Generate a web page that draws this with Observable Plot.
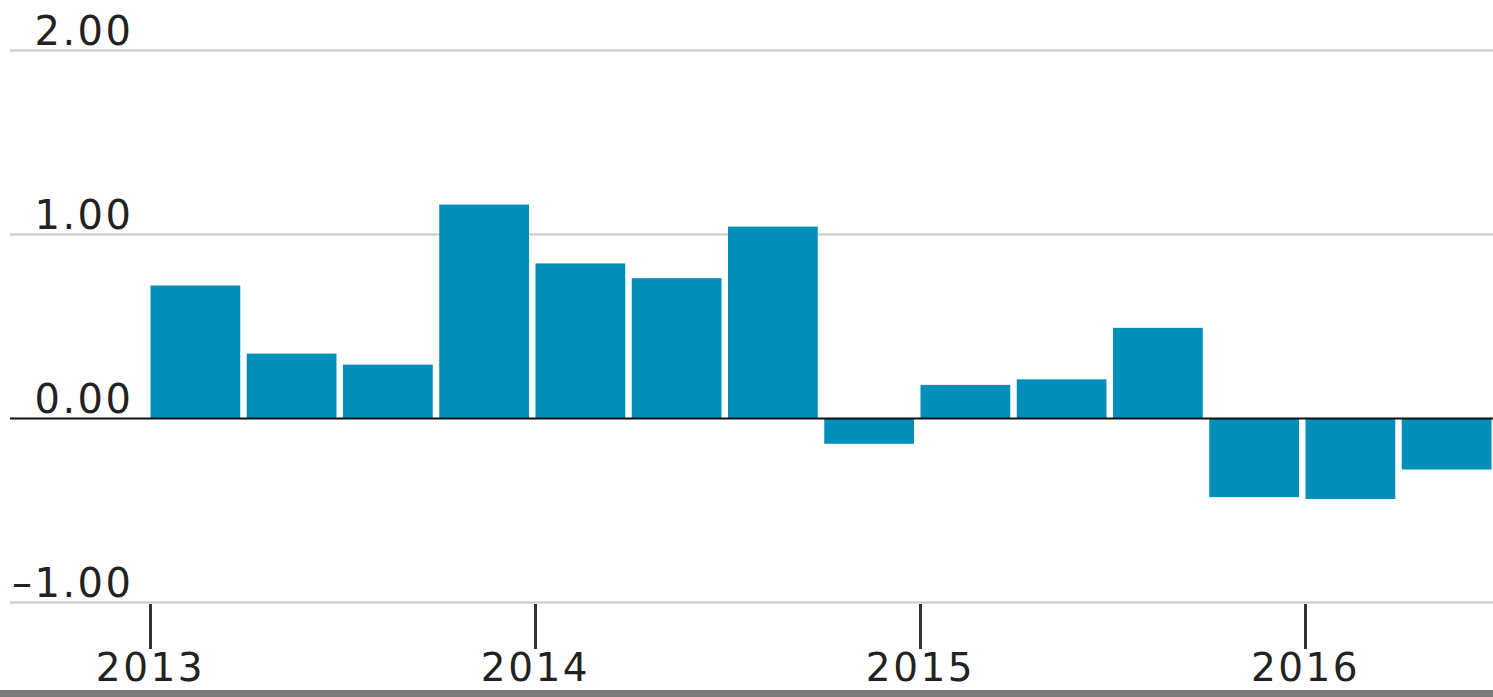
<!DOCTYPE html>
<html>
<head>
<meta charset="utf-8">
<script src="https://cdn.jsdelivr.net/npm/d3@7"></script>
<script src="https://cdn.jsdelivr.net/npm/@observablehq/plot@0.6"></script>
<style>
  html, body { margin: 0; padding: 0; background: #fff; overflow: hidden; }
  #wrap { position: relative; width: 1493px; height: 697px; }
  #strip { position: absolute; left: 0; bottom: 0; width: 1493px; height: 7px; background: #7a7a7a; }
  svg text { letter-spacing: 2.5px; }
</style>
</head>
<body>
<div id="wrap"><div id="chart"></div><div id="strip"></div></div>
<script>
// Quarterly values (2013 Q1 – 2016 Q2)
const quarterLabels = ["2013 Q1","2013 Q2","2013 Q3","2013 Q4",
                       "2014 Q1","2014 Q2","2014 Q3","2014 Q4",
                       "2015 Q1","2015 Q2","2015 Q3","2015 Q4",
                       "2016 Q1","2016 Q2"];
const values = [0.72, 0.35, 0.29, 1.16, 0.84, 0.76, 1.04, -0.14, 0.18, 0.21, 0.49, -0.43, -0.44, -0.28];
const yTicks = [2, 1, 0, -1];
const yearTicks = [2013, 2014, 2015, 2016];

const data = quarterLabels.map((q, i) => {
  const [y, qq] = q.split(" Q").map(Number);
  return {start: y + (qq - 1) / 4, end: y + qq / 4, value: values[i]};
});

const fmt = d3.formatLocale({decimal: ".", thousands: ",", grouping: [3], currency: ["", ""], minus: "\u2013"}).format(".2f");
const font = "DejaVu Sans, sans-serif";

const chart = Plot.plot({
  width: 1493,
  height: 697,
  marginLeft: 10,
  marginRight: 0,
  marginTop: 50,
  marginBottom: 95,
  style: {fontFamily: font, fontSize: "40px", color: "#222", background: "#fff"},
  x: {domain: [2012.6364, 2016.4883], axis: null},
  y: {domain: [-1, 2], axis: null},
  marks: [
    Plot.ruleY(yTicks.filter(d => d !== 0), {stroke: "#c8c8c8", strokeWidth: 2}),
    Plot.rectY(data, {x1: "start", x2: "end", y: "value", fill: "#008fb8", insetLeft: 0.5, insetRight: 6}),
    Plot.ruleY([0], {stroke: "#111", strokeWidth: 2}),
    Plot.text(yTicks, {y: d => d, text: d => fmt(d), frameAnchor: "left", dx: 123, textAnchor: "end", lineAnchor: "bottom", dy: -6, fill: "#222"}),
    Plot.axisX(yearTicks, {anchor: "bottom", tickSize: 45, tickPadding: 4, tickFormat: d => String(d), stroke: "#333", strokeWidth: 3, fill: "#222", dy: 2, fontSize: 39}),
  ]
});
document.getElementById("chart").appendChild(chart);
</script>
</body>
</html>
